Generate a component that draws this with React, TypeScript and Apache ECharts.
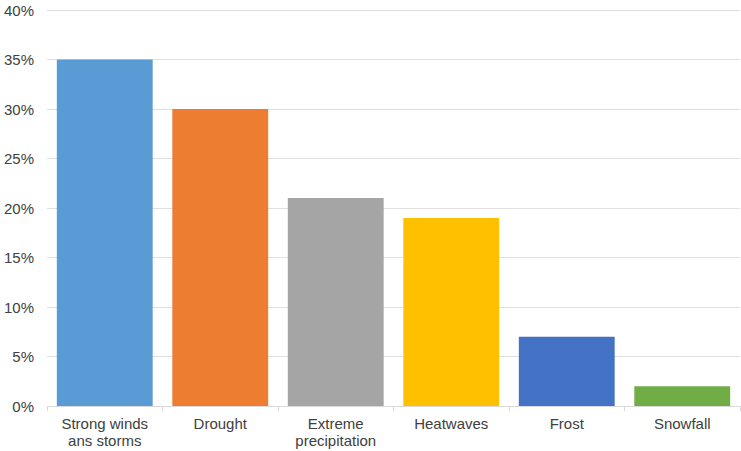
import React, { useEffect, useRef } from "react";
import * as echarts from "echarts";

const categories = ["Strong winds\nans storms", "Drought", "Extreme\nprecipitation", "Heatwaves", "Frost", "Snowfall"];
const values = [35, 30, 21, 19, 7, 2];
const colors = ["#5B9BD5", "#ED7D31", "#A5A5A5", "#FFC000", "#4472C4", "#70AD47"];

export default function App() {
  const ref = useRef<HTMLDivElement>(null);
  useEffect(() => {
    const chart = echarts.init(ref.current!, null, { renderer: "svg" });
    chart.setOption({
      animation: false,
      grid: { left: 47, right: 1, top: 10, bottom: 45 },
      xAxis: {
        type: "category",
        data: categories,
        axisLine: { lineStyle: { color: "#d9d9d9", width: 1 } },
        axisTick: { show: true, length: 5, lineStyle: { color: "#d9d9d9" } },
        axisLabel: {
          color: "#404040",
          fontSize: 15,
          fontFamily: "Liberation Sans, Arial, sans-serif",
          lineHeight: 17,
          margin: 9,
          interval: 0,
        },
      },
      yAxis: {
        type: "value",
        min: 0,
        max: 40,
        interval: 5,
        axisLine: { show: false },
        axisTick: { show: false },
        splitLine: { lineStyle: { color: "#e0e0e0", width: 1 } },
        axisLabel: {
          formatter: "{value}%",
          color: "#404040",
          fontSize: 15,
          fontFamily: "Liberation Sans, Arial, sans-serif",
          margin: 13,
        },
      },
      series: [
        {
          type: "bar",
          data: values.map((v, i) => ({ value: v, itemStyle: { color: colors[i] } })),
          barCategoryGap: "17%",
        },
      ],
    });
    return () => chart.dispose();
  }, []);
  return <div ref={ref} style={{ width: 741, height: 451, position: "absolute", left: 0, top: 0 }} />;
}
